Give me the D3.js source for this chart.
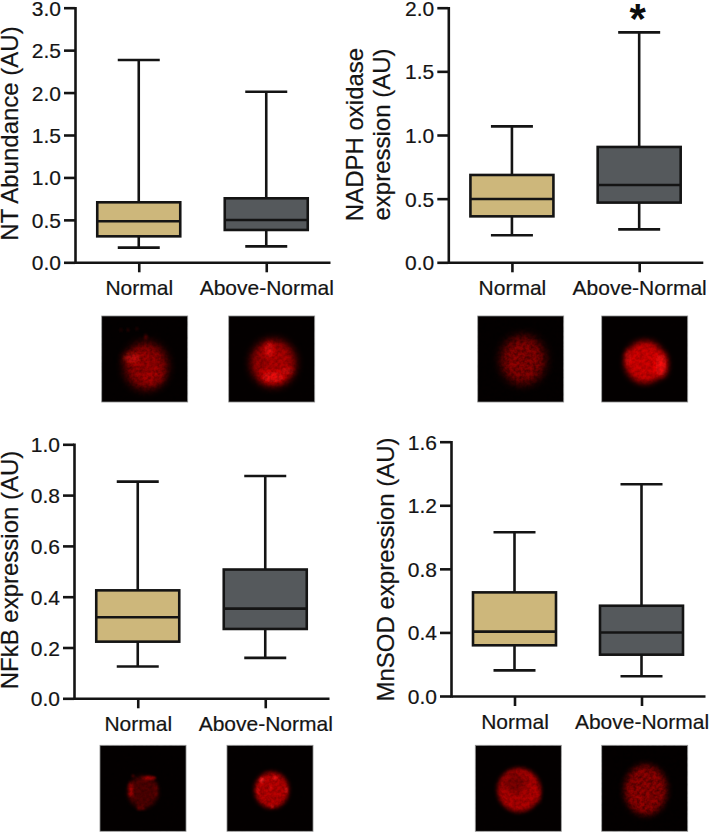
<!DOCTYPE html>
<html><head><meta charset="utf-8">
<script src="https://cdn.jsdelivr.net/npm/d3@7"></script>
<style>html,body{margin:0;padding:0;background:#fff}svg{display:block}text{font-family:"Liberation Sans",Arial,sans-serif}</style>
</head><body><svg id="c" width="709" height="832"></svg>
<script>
const groups = ["Normal", "Above-Normal"];
const fills = ["#cdb77b", "#55595c"];
const ntBoxes = [[0.173, 0.306, 0.483, 0.707, 2.383], [0.188, 0.381, 0.499, 0.754, 2.01]];
const noxBoxes = [[0.212, 0.361, 0.497, 0.686, 1.068], [0.259, 0.469, 0.607, 0.906, 1.806]];
const nfkbBoxes = [[0.125, 0.223, 0.319, 0.425, 0.853], [0.159, 0.273, 0.353, 0.507, 0.875]];
const sodBoxes = [[0.161, 0.319, 0.405, 0.652, 1.03], [0.124, 0.26, 0.4, 0.568, 1.332]];
const ntTicks = [0, 0.5, 1, 1.5, 2, 2.5, 3];
const noxTicks = [0, 0.5, 1, 1.5, 2];
const nfkbTicks = [0, 0.2, 0.4, 0.6, 0.8, 1];
const sodTicks = [0, 0.4, 0.8, 1.2, 1.6];

const ink = "#141414";
const panels = [
 {b:ntBoxes, t:ntTicks, x0:75, w:255, y0:262.3, y1:7.7, title:["NT Abundance (AU)"], tx:[18], ty:133.5, star:false},
 {b:noxBoxes, t:noxTicks, x0:448.3, w:254.5, y0:262.3, y1:7.7, title:["NADPH oxidase","expression (AU)"], tx:[363,390], ty:134.5, star:true},
 {b:nfkbBoxes, t:nfkbTicks, x0:74, w:255, y0:698.3, y1:444.3, title:["NFkB expression (AU)"], tx:[18], ty:570, star:false},
 {b:sodBoxes, t:sodTicks, x0:451, w:254, y0:696, y1:441.7, title:["MnSOD expression (AU)"], tx:[394], ty:569.5, star:false}
];
const svg = d3.select("#c");
const defs = svg.append("defs");
[1.2,1.6,2.2,3,4.2,5].forEach(s=>defs.append("filter").attr("id","bl"+String(s).replace(".","_"))
  .attr("x","-80%").attr("y","-80%").attr("width","260%").attr("height","260%")
  .append("feGaussianBlur").attr("stdDeviation",s));
const nf = defs.append("filter").attr("id","noise").attr("x","0").attr("y","0").attr("width","100%").attr("height","100%");
nf.append("feTurbulence").attr("type","fractalNoise").attr("baseFrequency",0.3).attr("numOctaves",2).attr("seed",11);
nf.append("feColorMatrix").attr("values","0 0 0 0 0  0 0 0 0 0  0 0 0 0 0  1.8 0 0 0 -0.55");

panels.forEach(p=>{
  const g = svg.append("g");
  const y = d3.scaleLinear().domain([0,d3.max(p.t)]).range([p.y0,p.y1]);
  const x = d3.scalePoint().domain(groups).range([p.x0,p.x0+p.w]).padding(0.5);
  const ax = g.append("g").attr("transform",`translate(${p.x0},0)`)
    .call(d3.axisLeft(y).tickValues(p.t).tickFormat(d3.format(".1f")).tickSize(11).tickSizeOuter(0).tickPadding(3));
  const bx = g.append("g").attr("transform",`translate(0,${p.y0})`)
    .call(d3.axisBottom(x).tickSize(10).tickSizeOuter(0).tickPadding(8));
  [ax,bx].forEach(a=>{
    a.selectAll("path,line").attr("stroke",ink).attr("stroke-width",2.6);
    a.selectAll("text").attr("font-size",21).attr("fill",ink).attr("stroke",ink).attr("stroke-width",0.2);
  });
  ax.selectAll("text").attr("dy","0.36em");
  ax.selectAll("path").attr("stroke-linecap","square");
  p.title.forEach((s,i)=>{
    g.append("text").attr("transform",`translate(${p.tx[i]},${p.ty}) rotate(-90)`)
     .attr("text-anchor","middle").attr("font-size",24).attr("fill",ink).attr("stroke",ink).attr("stroke-width",0.2).text(s);
  });
  p.b.forEach((d,i)=>{
    const cx = x(groups[i]), m = g.append("g").attr("stroke",ink).attr("stroke-width",2.6);
    m.append("line").attr("x1",cx).attr("x2",cx).attr("y1",y(d[4])).attr("y2",y(d[0]));
    [d[0],d[4]].forEach(v=>m.append("line").attr("x1",cx-21).attr("x2",cx+21).attr("y1",y(v)).attr("y2",y(v)));
    m.append("rect").attr("x",cx-41.5).attr("width",83).attr("y",y(d[3])).attr("height",y(d[1])-y(d[3])).attr("fill",fills[i]);
    m.append("line").attr("x1",cx-41.5).attr("x2",cx+41.5).attr("y1",y(d[2])).attr("y2",y(d[2]));
  });
  if(p.star){
    g.append("text").attr("x",x(groups[1])-1.5).attr("y",32.6).attr("text-anchor","middle")
     .attr("font-size",42).attr("font-weight","bold").attr("fill","#0c0c0c").text("*");
  }
});

// micrographs: square corner, then blobs as [cx, cy, rx, ry, colour, opacity, blur]
const cells = [
 {x:101.7,y:316,n:.4,blobs:[[146,366,21,23,"#980000",1,5],[132,358,9,4,"#e81510",.85,3],[153,376,11,9,"#b00000",.55,3],[146,337,1.5,3,"#700000",.8,1.2],[121,330,1.2,1.8,"#3a0000",.9,1.2],[128,330,1.2,1.8,"#3a0000",.9,1.2],[137,329,1.2,1.8,"#3a0000",.9,1.2]]},
 {x:228.7,y:316,n:.3,blobs:[[273.3,363,22,23,"#b00000",1,4.2],[273,377,12,5,"#ff0e0e",1,3],[269,350,4,8,"#f01010",.9,2.2],[287,371,7,3,"#e01010",.7,2.2],[262,361,6,6,"#800000",.55,2.2]]},
 {x:477.7,y:316,n:.5,blobs:[[523,360,22,24,"#880000",1,5],[515,362,7,9,"#9c0000",.5,3]]},
 {x:601.7,y:316,n:.25,blobs:[[645,362,20,21,"#d00000",1,3],[661,365,6,12,"#ff0808",1,3],[628,358,3,9,"#f00a0a",.7,2.2]]},
 {x:100,y:745.3,n:.35,blobs:[[143,792,15,16,"#500000",1,2.2],[131,790,2.5,8,"#b00000",.9,1.6],[149,778,7,2,"#b80000",.9,1.2],[133,776,1.2,1.2,"#900000",.9,1.2],[141,808,4,1.5,"#b00000",.8,1.6],[156,790,1.5,8,"#800000",.7,1.6]]},
 {x:227,y:745.3,n:.3,blobs:[[271.7,790,17,18,"#b80000",1,2.2],[262,780,2.5,2.5,"#ff2020",1,1.2],[275,778,2,2,"#ff2020",.9,1.2],[286,790,1.2,3,"#ff2020",.8,1.2],[270,788,2,2,"#f01010",.7,1.2],[272,806,2,2,"#f01010",.8,1.2],[258,790,1.5,4,"#e01010",.7,1.2]]},
 {x:475.3,y:745.3,n:.3,blobs:[[519,790,21.5,22,"#b00000",1,2.2],[515,783,11,10,"#700000",.8,3],[538,795,2,8,"#d80000",.6,2.2]]},
 {x:601.7,y:745.3,n:.5,blobs:[[645.7,790,21,25,"#900000",1,3],[638,796,9,9,"#a80000",.4,3]]}
];
cells.forEach((c,i)=>{
  defs.append("clipPath").attr("id","cp"+i).append("rect").attr("x",c.x).attr("y",c.y).attr("width",86).attr("height",86);
  const g = svg.append("g").attr("clip-path",`url(#cp${i})`);
  g.append("rect").attr("x",c.x).attr("y",c.y).attr("width",86).attr("height",86).attr("fill","#040000");
  c.blobs.forEach(b=>g.append("ellipse").attr("cx",b[0]).attr("cy",b[1]).attr("rx",b[2]).attr("ry",b[3])
    .attr("fill",b[4]).attr("opacity",b[5]).attr("filter",`url(#bl${String(b[6]).replace(".","_")})`));
  g.append("rect").attr("x",c.x).attr("y",c.y).attr("width",86).attr("height",86).attr("filter","url(#noise)").attr("opacity",c.n);
  svg.append("rect").attr("x",c.x).attr("y",c.y).attr("width",86).attr("height",86).attr("fill","none").attr("stroke","#8a8a8a").attr("stroke-width",.8);
});
</script></body></html>
